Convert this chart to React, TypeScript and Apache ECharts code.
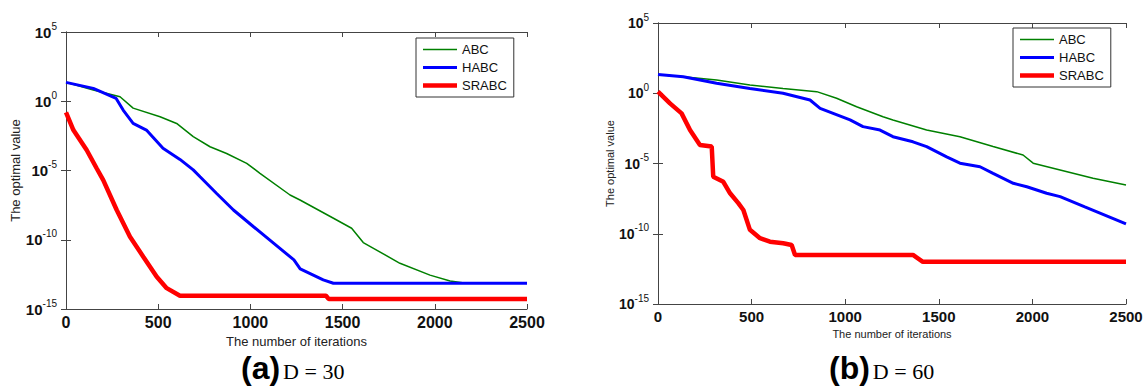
import React, { useEffect, useRef } from "react";
import * as echarts from "echarts";

// ---- Data (iteration, optimal value) ----
const xTicks = { min: 0, max: 2500, interval: 500 };
const yRange = { min: 1e-15, max: 1e5 };
const seriesNames = ["ABC", "HABC", "SRABC"];

// (a) D = 30
const abcD30: [number, number][] = [
  [0, 23], [148, 6.5], [293, 2.1], [364, 0.32], [510, 0.076], [600, 0.025],
  [690, 2.8e-3], [781, 5.2e-4], [871, 1.7e-4], [980, 3.3e-5], [1052, 6.3e-6],
  [1215, 1.7e-7], [1269, 7.4e-8], [1448, 3.7e-9], [1549, 6.8e-10], [1612, 6.3e-11],
  [1811, 2.0e-12], [1974, 2.8e-13], [2083, 1.05e-13], [2170, 7.2e-14], [2500, 7.2e-14],
];
const habcD30: [number, number][] = [
  [0, 23], [148, 8.5], [272, 1.6], [310, 0.23], [364, 0.025], [436, 8.3e-3],
  [526, 4.0e-4], [618, 6.3e-5], [690, 1.1e-5], [727, 3.5e-6], [817, 2.2e-7],
  [908, 1.4e-8], [1017, 8.7e-10], [1127, 5.5e-11], [1236, 3.5e-12], [1270, 7.9e-13],
  [1395, 1.26e-13], [1450, 7.2e-14], [2500, 7.2e-14],
];
const srabcD30: [number, number][] = [
  [0, 0.16], [40, 8.3e-3], [112, 3.0e-4], [166, 1.45e-5], [202, 2.0e-6],
  [275, 1.4e-8], [347, 1.66e-10], [419, 6.0e-12], [492, 2.1e-13], [546, 3.2e-14],
  [618, 9.1e-15], [1410, 9.1e-15], [1425, 5.2e-15], [2500, 5.2e-15],
];

// (b) D = 60
const abcD60: [number, number][] = [
  [0, 22], [135, 15], [313, 8.7], [491, 3.9], [668, 2.2], [848, 1.3], [954, 0.44],
  [1061, 0.11], [1202, 0.021], [1255, 0.0126], [1435, 2.4e-3], [1613, 8.1e-4],
  [1790, 1.6e-4], [1950, 4.0e-5], [2004, 1.05e-5], [2148, 3.5e-6], [2324, 8.9e-7],
  [2500, 3.0e-7],
];
const habcD60: [number, number][] = [
  [0, 22], [135, 15], [313, 5.1], [491, 2.2], [668, 1.0], [812, 0.33], [866, 0.085],
  [1026, 0.0126], [1095, 4.2e-3], [1186, 2.4e-3], [1255, 8.1e-4], [1362, 3.5e-4],
  [1435, 1.6e-4], [1542, 3.0e-5], [1613, 1.05e-5], [1720, 5.9e-6], [1790, 2.0e-6],
  [1898, 3.9e-7], [1970, 2.2e-7], [2076, 7.6e-8], [2148, 4.4e-8], [2280, 8.1e-9],
  [2500, 5.0e-10],
];
const srabcD60: [number, number][] = [
  [0, 1.3], [64, 0.19], [126, 0.037], [171, 2.4e-3], [224, 2.1e-4], [287, 1.6e-4],
  [295, 1.15e-6], [349, 5.0e-7], [385, 7.6e-8], [429, 1.5e-8], [456, 4.9e-9],
  [491, 1.9e-10], [545, 4.8e-11], [598, 2.7e-11], [669, 2.1e-11], [714, 1.6e-11],
  [732, 3.1e-12], [1362, 3.1e-12], [1415, 1.0e-12], [2500, 1.0e-12],
];

const captions = [
  { tag: "(a)", text: "D = 30" },
  { tag: "(b)", text: "D = 60" },
];
const xName = "The number of iterations";
const yName = "The optimal value";

const SANS = "'Liberation Sans', Arial, sans-serif";
const SERIF = "'Liberation Serif', 'Times New Roman', serif";
const COLORS = ["#008000", "#0000ff", "#ff0000"];
const WIDTHS = [1.5, 3, 4.5];
const AXIS = "#444";

export default function App() {
  const ref = useRef<HTMLDivElement>(null);
  useEffect(() => {
    if (!ref.current) return;
    const chart = echarts.init(ref.current, null, { renderer: "svg" });

    const grids = [
      { left: 66, top: 32, width: 461, height: 277 },
      { left: 658, top: 23, width: 468, height: 281 },
    ];
    const nameSize = [13, 11];
    const yNameGap = [32, 40];
    const xLabelSize = [16, 15];
    const yLabelSize = [15, 14];

    const xAxes: any[] = [];
    const yAxes: any[] = [];
    grids.forEach((_, gi) => {
      xAxes.push({
        type: "value",
        gridIndex: gi,
        position: "bottom",
        min: xTicks.min,
        max: xTicks.max,
        interval: xTicks.interval,
        name: xName,
        nameLocation: "middle",
        nameGap: 22,
        nameTextStyle: { fontFamily: SANS, fontSize: nameSize[gi], color: "#222" },
        axisLine: { show: true, lineStyle: { color: AXIS, width: 1 } },
        axisTick: { show: true, inside: true, length: 5, lineStyle: { color: AXIS } },
        axisLabel: {
          margin: 5,
          formatter: (v: number) => String(v),
          fontFamily: SANS,
          fontSize: xLabelSize[gi],
          fontWeight: "bold",
          color: "#111",
        },
        splitLine: { show: false },
      });
      xAxes.push({
        type: "value",
        gridIndex: gi,
        position: "top",
        min: xTicks.min,
        max: xTicks.max,
        interval: xTicks.interval,
        axisLine: { show: true, lineStyle: { color: AXIS, width: 1 } },
        axisTick: { show: true, inside: true, length: 5, lineStyle: { color: AXIS } },
        axisLabel: { show: false },
        splitLine: { show: false },
      });
      const yCommon = {
        type: "log",
        logBase: 10,
        gridIndex: gi,
        min: yRange.min,
        max: yRange.max,
        interval: 5,
        splitNumber: 4,
        splitLine: { show: false },
        axisLine: { show: true, lineStyle: { color: AXIS, width: 1 } },
        axisTick: { show: true, inside: true, length: 5, lineStyle: { color: AXIS } },
      };
      yAxes.push({
        ...yCommon,
        position: "left",
        name: yName,
        nameLocation: "middle",
        nameGap: yNameGap[gi],
        nameRotate: 90,
        nameTextStyle: { fontFamily: SANS, fontSize: nameSize[gi], color: "#222" },
        axisLabel: {
          margin: 9,
          showMinLabel: true,
          showMaxLabel: true,
          hideOverlap: false,
          formatter: (v: number) => `{b|10}{s|${Math.round(Math.log10(v))}}`,
          rich: {
            b: { fontFamily: SANS, fontSize: yLabelSize[gi], fontWeight: "bold", color: "#111" },
            s: {
              fontFamily: SANS,
              fontSize: 10,
              color: "#111",
              padding: [0, 0, 12, 0],
            },
          },
        },
      });
      yAxes.push({
        ...yCommon,
        position: "right",
        axisLabel: { show: false },
      });
    });

    const data = [
      [abcD30, habcD30, srabcD30],
      [abcD60, habcD60, srabcD60],
    ];
    const series: any[] = [];
    data.forEach((set, gi) => {
      set.forEach((d, si) => {
        series.push({
          type: "line",
          name: seriesNames[si],
          xAxisIndex: gi * 2,
          yAxisIndex: gi * 2,
          data: d,
          showSymbol: false,
          symbol: "none",
          lineStyle: { color: COLORS[si], width: WIDTHS[si] },
          itemStyle: { color: COLORS[si] },
          z: 2 + si,
        });
      });
    });

    const legendItems = seriesNames.map((n, i) => ({
      name: n,
      icon: `path://M0,0H34V${WIDTHS[i]}H0Z`,
      itemStyle: { color: COLORS[i], borderWidth: 0 },
    }));
    const legendPos = [
      { left: 416, top: 38 },
      { left: 1013, top: 28 },
    ];
    const legends = legendPos.map((p) => ({
      ...p,
      orient: "vertical",
      data: legendItems,
      itemWidth: 34,
      itemHeight: 14,
      itemGap: 5,
      symbolKeepAspect: true,
      padding: [5, 7, 5, 7],
      borderColor: "#333",
      borderWidth: 1,
      backgroundColor: "#fff",
      selectedMode: false,
      textStyle: { fontFamily: SANS, fontSize: 13, color: "#111" },
    }));

    const capPos = [
      { x: 241, y: 352 },
      { x: 829, y: 352 },
    ];
    const graphic = captions.map((c, i) => ({
      type: "text",
      left: capPos[i].x,
      top: capPos[i].y,
      style: {
        text: `{a|${c.tag}}{d|${c.text}}`,
        rich: {
          a: { fontFamily: SANS, fontSize: 32, fontWeight: "bold", fill: "#000", padding: [0, 3, 0, 0] },
          d: { fontFamily: SERIF, fontSize: 22, fill: "#000", padding: [6, 0, 0, 0] },
        },
      },
    }));

    chart.setOption({
      animation: false,
      backgroundColor: "#fff",
      grid: grids.map((g) => ({ ...g, containLabel: false })),
      xAxis: xAxes,
      yAxis: yAxes,
      legend: legends,
      series,
      graphic,
    });
    return () => chart.dispose();
  }, []);

  return (
    <div
      ref={ref}
      style={{ position: "fixed", left: 0, top: 0, width: 1147, height: 390, background: "#fff" }}
    />
  );
}
